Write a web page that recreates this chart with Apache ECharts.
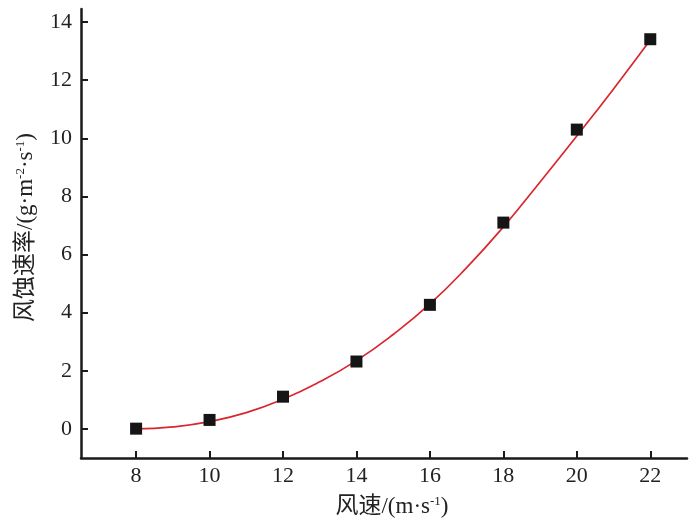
<!DOCTYPE html>
<html>
<head>
<meta charset="utf-8">
<script src="https://cdn.jsdelivr.net/npm/echarts@6/dist/echarts.min.js"></script>
<style>html,body{margin:0;padding:0;background:#fff}#c{width:700px;height:528px}</style>
</head>
<body>
<div id="c"></div>
<script>
const windSpeed = [8, 10, 12, 14, 16, 18, 20, 22];
const erosionRate = [0.01, 0.31, 1.11, 2.32, 4.27, 7.10, 10.30, 13.41];
const fitX = [8, 9, 10, 11, 12, 13, 14, 15, 16, 17, 18, 19, 20, 21, 22];
const fitY = [0, 0.07, 0.25, 0.56, 1.02, 1.62, 2.35, 3.25, 4.3, 5.55, 6.95, 8.5, 10.08, 11.7, 13.38];
const xTicks = [8, 10, 12, 14, 16, 18, 20, 22];
const yTicks = [0, 2, 4, 6, 8, 10, 12, 14];

const FONT = "'Liberation Serif', 'Noto Sans CJK SC', serif";
const chart = echarts.init(document.getElementById('c'));
const axisCommon = {
  axisLine: { show: true, onZero: false, lineStyle: { color: '#1a1a1a', width: 2.5 } },
  axisTick: { show: true, inside: true, length: 7, lineStyle: { color: '#1a1a1a', width: 2 } },
  splitLine: { show: false },
  axisLabel: { color: '#222', fontSize: 22, fontFamily: FONT },
  nameTextStyle: { color: '#222', fontSize: 23, fontFamily: FONT }
};
const supStyle = { fontSize: 13, verticalAlign: 'top', fontFamily: FONT, color: '#222', padding: [0, 0, 10, 0] };
chart.setOption({
  backgroundColor: '#fff',
  animation: false,
  grid: { left: 81, right: 13, top: 9, bottom: 70, containLabel: false },
  xAxis: Object.assign({}, axisCommon, {
    type: 'value', min: 6.5, max: 23,
    axisTick: Object.assign({}, axisCommon.axisTick, { customValues: xTicks }),
    axisLabel: Object.assign({}, axisCommon.axisLabel, { customValues: xTicks, margin: 7 }),
    name: '风速/(m·s{sup|-1})',
    nameLocation: 'middle',
    nameGap: 37,
    nameTextStyle: Object.assign({}, axisCommon.nameTextStyle, {
      padding: [0, 0, 0, 16],
      rich: { sup: supStyle }
    })
  }),
  yAxis: Object.assign({}, axisCommon, {
    type: 'value', min: -1, max: 14.45,
    axisTick: Object.assign({}, axisCommon.axisTick, { customValues: yTicks }),
    axisLabel: Object.assign({}, axisCommon.axisLabel, { customValues: yTicks, margin: 9 }),
    name: '风蚀速率/(g·m{sup|-2}·s{sup|-1})',
    nameLocation: 'middle',
    nameGap: 44,
    nameTextStyle: Object.assign({}, axisCommon.nameTextStyle, {
      padding: [0, 0, 0, 12],
      rich: { sup: supStyle }
    })
  }),
  series: [
    {
      type: 'line',
      data: fitX.map((x, i) => [x, fitY[i]]),
      smooth: true,
      showSymbol: false,
      lineStyle: { color: '#d9262f', width: 1.7 },
      z: 2
    },
    {
      type: 'scatter',
      data: windSpeed.map((x, i) => [x, erosionRate[i]]),
      symbol: 'rect',
      symbolSize: 12,
      itemStyle: { color: '#151515', opacity: 1 },
      z: 3
    }
  ]
});
</script>
</body>
</html>
